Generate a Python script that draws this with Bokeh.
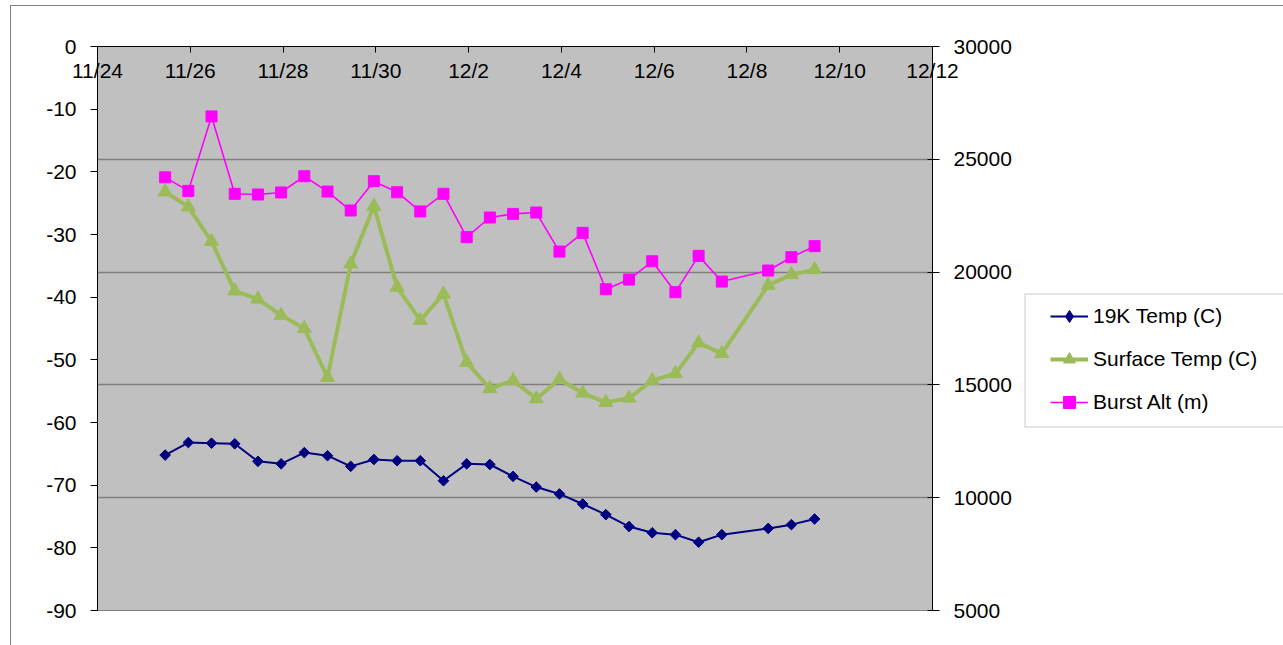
import math
import pandas as pd
from bokeh.plotting import figure
from bokeh.layouts import row
from bokeh.models import (Range1d, LinearAxis, FixedTicker, Grid, Legend,
                          LegendItem, BoxAnnotation)
from bokeh.embed import file_html
from bokeh.resources import INLINE

# ---------------- data ----------------
times = ["11/25 11:00", "11/25 23:00", "11/26 11:00", "11/26 23:00",
         "11/27 11:00", "11/27 23:00", "11/28 11:00", "11/28 23:00",
         "11/29 11:00", "11/29 23:00", "11/30 11:00", "11/30 23:00",
         "12/1 11:00", "12/1 23:00", "12/2 11:00", "12/2 23:00",
         "12/3 11:00", "12/3 23:00", "12/4 11:00", "12/4 23:00",
         "12/5 11:00", "12/5 23:00", "12/6 11:00", "12/6 23:00",
         "12/7 11:00", "12/8 11:00", "12/8 23:00", "12/9 11:00"]

temp_19k = [-65.2, -63.2, -63.3, -63.4, -66.2, -66.6, -64.8, -65.3,
            -67.0, -65.9, -66.1, -66.1, -69.3, -66.6, -66.7, -68.6,
            -70.3, -71.4, -73.0, -74.7, -76.6, -77.6, -77.9, -79.1,
            -77.9, -76.9, -76.3, -75.4]

surface_temp = [-23.2, -25.6, -31.1, -39.0, -40.3, -42.9, -45.0, -52.8,
                -34.7, -25.5, -38.4, -43.7, -39.5, -50.4, -54.6, -53.3,
                -56.2, -53.1, -55.3, -56.8, -56.1, -53.3, -52.2, -47.3,
                -49.0, -38.1, -36.4, -35.6]

burst_alt = [24200, 23600, 26900, 23470, 23440, 23530, 24250, 23570,
             22730, 24030, 23540, 22690, 23470, 21550, 22420, 22580,
             22640, 20910, 21740, 19240, 19670, 20480, 19110, 20720,
             19580, 20070, 20660, 21150]

x_tick_labels = ["11/24", "11/26", "11/28", "11/30", "12/2", "12/4",
                 "12/6", "12/8", "12/10", "12/12"]
left_ticks = [0, -10, -20, -30, -40, -50, -60, -70, -80, -90]
right_ticks = [5000, 10000, 15000, 20000, 25000, 30000]

series_names = ["19K Temp (C)", "Surface Temp (C)", "Burst Alt (m)"]

# ---------------- conversion ----------------
YEAR = "2008/"
start = pd.to_datetime(YEAR + x_tick_labels[0], format="%Y/%m/%d")
t = pd.to_datetime([YEAR + s for s in times], format="%Y/%m/%d %H:%M")
x = list(((t - start) / pd.Timedelta(days=1)))
tick_days = [float((pd.to_datetime(YEAR + s, format="%Y/%m/%d") - start) / pd.Timedelta(days=1))
             for s in x_tick_labels]

FONT = "Liberation Sans"
FS = "21px"
NAVY, GREEN, MAGENTA = "#000080", "#9BBB59", "#FF00FF"

# ---------------- main chart ----------------
p = figure(width=1011, height=639, output_backend="svg", toolbar_location=None,
           x_axis_location="above",
           x_range=Range1d(tick_days[0], tick_days[-1]),
           y_range=Range1d(min(left_ticks), max(left_ticks)),
           min_border_left=86, min_border_right=90,
           min_border_top=40, min_border_bottom=35)
p.extra_y_ranges = {"alt": Range1d(min(right_ticks), max(right_ticks))}

p.background_fill_color = "#C0C0C0"
p.border_fill_color = "white"
p.outline_line_color = "#808080"
p.outline_line_width = 1
p.xgrid.visible = False
p.ygrid.visible = False

grid = Grid(dimension=1, ticker=FixedTicker(ticks=right_ticks), y_range_name="alt",
            grid_line_color="#808080", grid_line_width=1.5)
p.renderers.append(grid)

xa = p.xaxis[0]
xa.ticker = FixedTicker(ticks=tick_days)
xa.major_label_overrides = {d: lbl for d, lbl in zip(tick_days, x_tick_labels)}
xa.major_tick_in = 6
xa.major_tick_out = 0
xa.minor_tick_line_color = None
xa.axis_line_color = "black"
xa.major_tick_line_color = "black"
xa.major_label_standoff = -35
xa.major_label_text_font = FONT
xa.major_label_text_font_size = FS
xa.major_label_text_color = "black"

ya = p.yaxis[0]
ya.ticker = FixedTicker(ticks=left_ticks)
ya.major_label_overrides = {v: str(v) for v in left_ticks}
ya.major_tick_in = 0
ya.major_tick_out = 7
ya.minor_tick_line_color = None
ya.axis_line_color = "black"
ya.major_label_standoff = 14
ya.major_label_text_font = FONT
ya.major_label_text_font_size = FS
ya.major_label_text_color = "black"

ra = LinearAxis(y_range_name="alt", ticker=FixedTicker(ticks=right_ticks))
ra.major_label_overrides = {v: str(v) for v in right_ticks}
ra.major_tick_in = 5
ra.major_tick_out = 7
ra.minor_tick_line_color = None
ra.axis_line_color = "black"
ra.major_label_standoff = 14
ra.major_label_text_font = FONT
ra.major_label_text_font_size = FS
ra.major_label_text_color = "black"
p.add_layout(ra, "right")

p.line(x, temp_19k, line_color=NAVY, line_width=2)
p.scatter(x, temp_19k, marker="square", angle=math.pi / 4, size=7.5,
          fill_color=NAVY, line_color=NAVY)
p.line(x, surface_temp, line_color=GREEN, line_width=4)
p.scatter(x, surface_temp, marker="triangle", size=14,
          fill_color=GREEN, line_color=GREEN)
p.line(x, burst_alt, line_color=MAGENTA, line_width=1.6, y_range_name="alt")
p.scatter(x, burst_alt, marker="square", size=11, fill_color=MAGENTA,
          line_color=MAGENTA, y_range_name="alt")

# ---------------- legend panel ----------------
q = figure(width=261, height=639, output_backend="svg", toolbar_location=None,
           x_axis_location=None, y_axis_location=None,
           x_range=Range1d(-100, -99), y_range=Range1d(-100, -99),
           min_border=0)
q.xgrid.visible = False
q.ygrid.visible = False
q.outline_line_color = None
q.background_fill_color = "white"
q.border_fill_color = "white"

ql1 = q.line(x, temp_19k, line_color=NAVY, line_width=2)
qs1 = q.scatter(x, temp_19k, marker="diamond", size=13, fill_color=NAVY, line_color=NAVY)
ql2 = q.line(x, surface_temp, line_color=GREEN, line_width=4)
qs2 = q.scatter(x, surface_temp, marker="triangle", size=14, fill_color=GREEN, line_color=GREEN)
ql3 = q.line(x, burst_alt, line_color=MAGENTA, line_width=1.6)
qs3 = q.scatter(x, burst_alt, marker="square", size=11, fill_color=MAGENTA, line_color=MAGENTA)

legend = Legend(items=[LegendItem(label=series_names[0], renderers=[ql1, qs1]),
                       LegendItem(label=series_names[1], renderers=[ql2, qs2]),
                       LegendItem(label=series_names[2], renderers=[ql3, qs3])],
                location=(28, 193), orientation="vertical",
                padding=0, margin=0, spacing=13,
                glyph_width=38, glyph_height=30, label_height=30,
                label_standoff=5,
                label_text_font=FONT, label_text_font_size=FS,
                label_text_color="black",
                background_fill_alpha=0, border_line_alpha=0)
q.add_layout(legend, "center")
q.add_layout(BoxAnnotation(left=2.5, right=400, top=287.5, bottom=420.5,
                           left_units="canvas", right_units="canvas",
                           top_units="canvas", bottom_units="canvas",
                           fill_alpha=0, line_color="#505050", line_width=1))

layout = row(p, q, margin=(5, 0, 0, 10),
             styles={"border-left": "1px solid #808080",
                     "border-top": "1px solid #808080"})

open("out.html", "w").write(file_html(layout, INLINE))
